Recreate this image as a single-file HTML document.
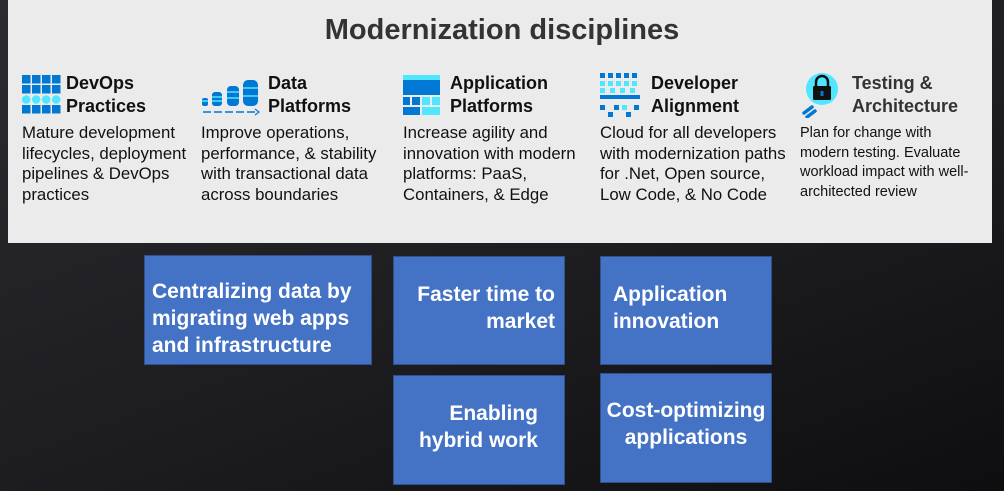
<!DOCTYPE html>
<html><head><style>
body{margin:0;width:1004px;height:491px;overflow:hidden;background:linear-gradient(160deg,#2c2c30 0%,#1c1c1f 60%,#0e0e10 100%);font-family:"Liberation Sans",sans-serif;position:relative}
.panel{position:absolute;left:8px;top:0;width:984px;height:243px;background:#ebebeb}
h1{position:absolute;left:0;width:1004px;top:14px;margin:0;text-align:center;font-size:29px;font-weight:bold;color:#333}
.col{position:absolute;top:72px}
.t{position:absolute;font-size:18px;font-weight:bold;line-height:23px;color:#111}
.d{position:absolute;top:51px;font-size:16.8px;line-height:20.5px;color:#111;white-space:nowrap}
.box{position:absolute;background:#4472c4;border:1.5px solid #2f528f;color:#fff;font-weight:bold;font-size:21px;line-height:27px;box-sizing:border-box}
svg{position:absolute}
</style></head><body>
<div class="panel"></div>
<h1>Modernization disciplines</h1>

<div class="col" style="left:22px">
<svg width="40" height="40" style="left:0;top:3px">
<g fill="#0078d4"><rect x="0" y="0" width="8.5" height="8.5"/><rect x="10" y="0" width="8.5" height="8.5"/><rect x="20" y="0" width="8.5" height="8.5"/><rect x="30" y="0" width="8.5" height="8.5"/>
<rect x="0" y="10" width="8.5" height="8.5"/><rect x="10" y="10" width="8.5" height="8.5"/><rect x="20" y="10" width="8.5" height="8.5"/><rect x="30" y="10" width="8.5" height="8.5"/>
<rect x="0" y="30" width="8.5" height="8.5"/><rect x="10" y="30" width="8.5" height="8.5"/><rect x="20" y="30" width="8.5" height="8.5"/><rect x="30" y="30" width="8.5" height="8.5"/></g>
<g fill="#50e6ff"><circle cx="4.2" cy="24.5" r="4.3"/><circle cx="14.2" cy="24.5" r="4.3"/><circle cx="24.2" cy="24.5" r="4.3"/><circle cx="34.2" cy="24.5" r="4.3"/></g></svg>
<div class="t" style="left:44px;top:0">DevOps<br>Practices</div>
<div class="d" style="left:0">Mature development<br>lifecycles, deployment<br>pipelines &amp; DevOps<br>practices</div>
</div>

<div class="col" style="left:201px">
<svg width="60" height="44" style="left:0;top:0">
<g fill="#0078d4"><rect x="1" y="26" width="6" height="8" rx="2"/><rect x="11" y="20" width="10" height="14" rx="3"/><rect x="26" y="14" width="12" height="20" rx="4"/><rect x="42" y="8" width="15" height="26" rx="5"/></g>
<g stroke="#50e6ff" stroke-width="1.5"><line x1="1" y1="29" x2="7" y2="29"/><line x1="11" y1="25" x2="21" y2="25"/><line x1="11" y1="29" x2="21" y2="29"/><line x1="26" y1="20" x2="38" y2="20"/><line x1="26" y1="26" x2="38" y2="26"/><line x1="42" y1="16" x2="57" y2="16"/><line x1="42" y1="24" x2="57" y2="24"/></g>
<g stroke="#0078d4" stroke-width="1.5"><line x1="2" y1="40" x2="57" y2="40" stroke-dasharray="8 3"/></g>
<path d="M54 37 L58 40 L54 43" fill="none" stroke="#0078d4" stroke-width="1.2"/></svg>
<div class="t" style="left:67px;top:0">Data<br>Platforms</div>
<div class="d" style="left:0">Improve operations,<br>performance, &amp; stability<br>with transactional data<br>across boundaries</div>
</div>

<div class="col" style="left:403px">
<svg width="40" height="44" style="left:0;top:3px">
<rect x="0" y="0" width="37" height="5" fill="#50e6ff"/><rect x="0" y="5" width="37" height="15" fill="#0078d4"/>
<rect x="0" y="22" width="7" height="8" fill="#0078d4"/><rect x="9" y="22" width="8" height="8" fill="#0078d4"/><rect x="19" y="22" width="8" height="8" fill="#50e6ff"/><rect x="29" y="22" width="8" height="8" fill="#50e6ff"/>
<rect x="0" y="32" width="17" height="8" fill="#0078d4"/><rect x="19" y="32" width="18" height="8" fill="#50e6ff"/></svg>
<div class="t" style="left:47px;top:0">Application<br>Platforms</div>
<div class="d" style="left:0">Increase agility and<br>innovation with modern<br>platforms: PaaS,<br>Containers, &amp; Edge</div>
</div>

<div class="col" style="left:600px">
<svg width="44" height="46" style="left:0;top:0">
<g fill="#0078d4"><rect x="0" y="1" width="5" height="5"/><rect x="8" y="1" width="5" height="5"/><rect x="16" y="1" width="5" height="5"/><rect x="24" y="1" width="5" height="5"/><rect x="32" y="1" width="5" height="5"/>
<rect x="0" y="23" width="40" height="4"/><rect x="0" y="33" width="5" height="5"/><rect x="14" y="33" width="5" height="5"/><rect x="34" y="33" width="5" height="5"/><rect x="8" y="40" width="5" height="5"/><rect x="26" y="40" width="5" height="5"/></g>
<g fill="#50e6ff"><rect x="0" y="9" width="5" height="5"/><rect x="8" y="9" width="5" height="5"/><rect x="16" y="9" width="5" height="5"/><rect x="24" y="9" width="5" height="5"/><rect x="32" y="9" width="5" height="5"/><rect x="0" y="16" width="5" height="5"/><rect x="10" y="16" width="5" height="5"/><rect x="20" y="16" width="5" height="5"/><rect x="30" y="16" width="5" height="5"/><rect x="22" y="33" width="5" height="5"/></g></svg>
<div class="t" style="left:51px;top:0">Developer<br>Alignment</div>
<div class="d" style="left:0">Cloud for all developers<br>with modernization paths<br>for .Net, Open source,<br>Low Code, &amp; No Code</div>
</div>

<div class="col" style="left:800px">
<svg width="44" height="46" style="left:0;top:0">
<circle cx="22" cy="17" r="16" fill="#50e6ff"/>
<path d="M16 14 v-4 a6 6 0 0 1 12 0 v4" fill="none" stroke="#111" stroke-width="2.5"/>
<rect x="13" y="14" width="18" height="14" rx="1.5" fill="#111"/><rect x="20.5" y="19" width="3" height="5" fill="#0078d4"/>
<g stroke="#0078d4" stroke-width="3.5" stroke-linecap="round"><line x1="4" y1="41" x2="12" y2="35"/><line x1="7" y1="45" x2="15" y2="39"/></g></svg>
<div class="t" style="left:52px;top:0;color:#333">Testing &amp;<br>Architecture</div>
<div class="d" style="left:0;top:52px;font-size:14.5px;line-height:19.5px">Plan for change with<br>modern testing. Evaluate<br>workload impact with well-<br>architected review</div>
</div>

<div class="box" style="left:144px;top:255px;width:228px;height:110px;padding:22px 0 0 7px">Centralizing data by<br>migrating web apps<br>and infrastructure</div>
<div class="box" style="left:393px;top:256px;width:172px;height:109px;padding:24px 9px 0 0;text-align:right">Faster time to<br>market</div>
<div class="box" style="left:600px;top:256px;width:172px;height:109px;padding:24px 0 0 12px">Application<br>innovation</div>
<div class="box" style="left:393px;top:375px;width:172px;height:110px;padding:24px 26px 0 0;text-align:right">Enabling<br>hybrid work</div>
<div class="box" style="left:600px;top:373px;width:172px;height:110px;padding:23px 0 0 0;text-align:center">Cost-optimizing<br>applications</div>
</body></html>
